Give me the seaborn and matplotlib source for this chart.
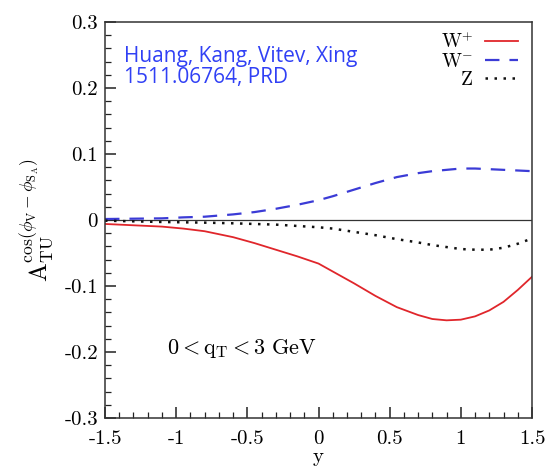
import numpy as np
import pandas as pd
import matplotlib
matplotlib.use("Agg")
import matplotlib.pyplot as plt
import seaborn as sns
from matplotlib.ticker import MultipleLocator

# Data
y_vals = [-1.5, -1.3, -1.1, -0.95, -0.8, -0.6, -0.45, -0.3, -0.15, 0.0, 0.1, 0.25, 0.4, 0.55,
          0.7, 0.8, 0.9, 1.0, 1.1, 1.2, 1.3, 1.4, 1.5]
w_plus = [-0.006, -0.008, -0.010, -0.013, -0.017, -0.026, -0.035, -0.045, -0.055, -0.066,
          -0.078, -0.096, -0.115, -0.132, -0.144, -0.150, -0.152, -0.151, -0.146, -0.137,
          -0.124, -0.106, -0.086]
w_minus = [0.0015, 0.002, 0.0025, 0.004, 0.005, 0.0085, 0.012, 0.017, 0.023, 0.030,
           0.036, 0.046, 0.056, 0.065, 0.071, 0.074, 0.076, 0.078, 0.078, 0.077,
           0.076, 0.075, 0.074]
z_vals = [-0.001, -0.002, -0.003, -0.0035, -0.004, -0.005, -0.006, -0.007, -0.009, -0.011,
          -0.013, -0.018, -0.023, -0.029, -0.034, -0.038, -0.041, -0.044, -0.045, -0.045,
          -0.042, -0.036, -0.028]

series_names = ["W$^{+}$", "W$^{-}$", "Z"]
xticks = [-1.5, -1, -0.5, 0, 0.5, 1, 1.5]
xtick_labels = ["-1.5", "-1", "-0.5", "0", "0.5", "1", "1.5"]
yticks = [-0.3, -0.2, -0.1, 0, 0.1, 0.2, 0.3]
ytick_labels = ["-0.3", "-0.2", "-0.1", "0", "0.1", "0.2", "0.3"]

plt.rcParams.update({
    "mathtext.fontset": "cm",
    "font.family": ["cmr10", "DejaVu Serif"],
    "axes.formatter.use_mathtext": True,
})

df = pd.DataFrame({
    "y": y_vals * 3,
    "A": w_plus + w_minus + z_vals,
    "s": [series_names[0]] * len(y_vals) + [series_names[1]] * len(y_vals)
         + [series_names[2]] * len(y_vals),
})

fig = plt.figure(figsize=(5.51, 4.71), dpi=100)
ax = fig.add_axes([0.1906, 0.1125, 0.7749, 0.8408])

ax.axhline(0, color="#333333", lw=0.9, zorder=1)

styles = {
    series_names[0]: dict(color="#e0262b", ls="-", lw=1.3),
    series_names[1]: dict(color="#3b3bd6", ls=(0, (6.5, 4.5)), lw=1.6),
    series_names[2]: dict(color="#111111", ls=(0, (1, 2.6)), lw=1.8),
}
for name in series_names:
    sub = df[df["s"] == name]
    sns.lineplot(data=sub, x="y", y="A", ax=ax, label=name, **styles[name])

ax.set_xlim(-1.5, 1.5)
ax.set_ylim(-0.3, 0.3)
ax.set_xticks(xticks)
ax.set_xticklabels(xtick_labels)
ax.set_yticks(yticks)
ax.set_yticklabels(ytick_labels)
ax.xaxis.set_minor_locator(MultipleLocator(0.1))
ax.yaxis.set_minor_locator(MultipleLocator(0.02))
ax.tick_params(which="both", direction="in", left=True, bottom=True, top=False, right=False,
               color="#222222")
ax.tick_params(which="major", length=8, width=1.1, labelsize=15)
ax.tick_params(which="minor", length=4, width=0.9)
ax.tick_params(axis="x", which="major", pad=9)
ax.tick_params(axis="y", which="major", pad=5)
for sp in ax.spines.values():
    sp.set_visible(True)
    sp.set_color("#333333")
    sp.set_linewidth(1.1)

ax.set_xlabel("y", fontsize=15, labelpad=0)
ax.set_ylabel(r"$\mathrm{A}_{\mathrm{TU}}^{\cos(\phi_{\mathrm{V}}-\phi_{\mathrm{S_A}})}$",
              fontsize=18, labelpad=6)

ax.text(0.045, 0.94, "Huang, Kang, Vitev, Xing\n1511.06764, PRD", transform=ax.transAxes,
        color="#3040f5", fontsize=15, family="Open Sans", va="top", ha="left",
        linespacing=1.0)
ax.text(0.145, 0.175, r"$0 < \mathrm{q_T} < 3\ \mathrm{GeV}$", transform=ax.transAxes,
        fontsize=16, va="center", ha="left")

leg = ax.legend(loc="upper right", markerfirst=False, frameon=False, fontsize=14,
                handlelength=1.7, handletextpad=0.6, labelspacing=0.02,
                borderaxespad=0.0, bbox_to_anchor=(0.985, 0.995))

fig.savefig("out.png", dpi=100, facecolor="white")
